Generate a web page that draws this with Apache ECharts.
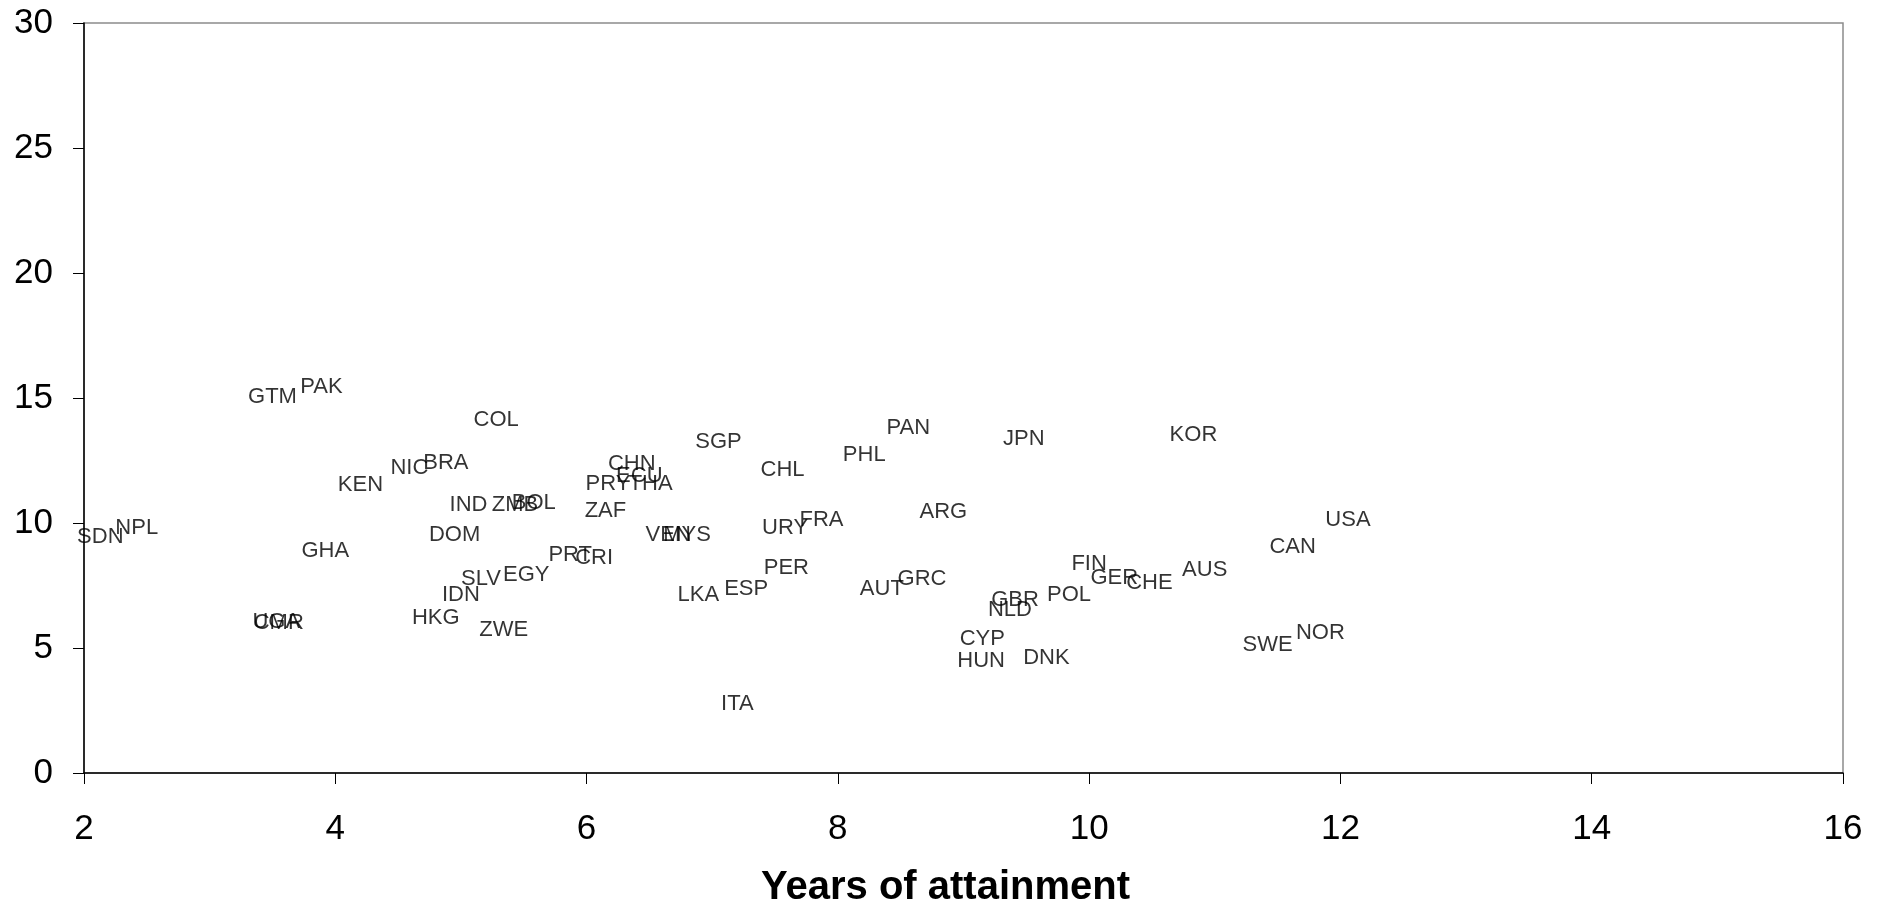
<!DOCTYPE html>
<html>
<head>
<meta charset="utf-8">
<script src="https://cdn.jsdelivr.net/npm/echarts@6/dist/echarts.min.js"></script>
<style>
html,body{margin:0;padding:0;background:#fff;}
#chart{width:1883px;height:906px;}
</style>
</head>
<body>
<div id="chart"></div>
<script>
const countries = ["GTM","PAK","COL","NIC","BRA","KEN","IND","ZMB","BOL","SDN","NPL","GHA","DOM","SLV","EGY","IDN","HKG","ZWE","UGA","CMR","CHN","ECU","PRY","THA","SGP","ZAF","VEN","MYS","PRT","CRI","LKA","ESP","CHL","PAN","PHL","URY","FRA","PER","AUT","GRC","ITA","ARG","JPN","KOR","FIN","GER","CHE","AUS","POL","GBR","NLD","CYP","HUN","DNK","USA","CAN","SWE","NOR"];
const years = [3.50,3.89,5.28,4.59,4.88,4.20,5.06,5.43,5.58,2.13,2.42,3.92,4.95,5.16,5.52,5.00,4.80,5.34,3.53,3.55,6.36,6.42,6.17,6.51,7.05,6.15,6.65,6.80,5.87,6.06,6.89,7.27,7.56,8.56,8.21,7.58,7.87,7.59,8.35,8.67,7.20,8.84,9.48,10.83,10.00,10.20,10.48,10.92,9.84,9.41,9.37,9.15,9.14,9.66,12.06,11.62,11.42,11.84];
const values = [15.05,15.45,14.12,12.19,12.39,11.52,10.72,10.72,10.79,9.45,9.79,8.89,9.52,7.76,7.91,7.12,6.20,5.71,6.04,6.02,12.36,11.89,11.56,11.56,13.23,10.47,9.52,9.52,8.72,8.59,7.13,7.37,12.12,13.80,12.72,9.80,10.13,8.20,7.37,7.75,2.77,10.44,13.36,13.53,8.36,7.79,7.61,8.11,7.13,6.91,6.51,5.37,4.47,4.60,10.12,9.04,5.13,5.59];
const xTicks = [2,4,6,8,10,12,14,16];
const yTicks = [0,5,10,15,20,25,30];

const data = countries.map((c,i)=>({name:c, value:[years[i], values[i]]}));
const font = "Arial, 'Liberation Sans', sans-serif";

const chart = echarts.init(document.getElementById('chart'), null, {renderer:'canvas'});
chart.setOption({
  animation:false,
  backgroundColor:'#ffffff',
  grid:{left:84,right:40,top:23,bottom:133,show:true,borderColor:'#8c8c8c',borderWidth:1.5,backgroundColor:'transparent',outerBoundsMode:'none',containLabel:false},
  xAxis:{
    type:'value', min:xTicks[0], max:xTicks[xTicks.length-1], interval:2,
    name:'Years of attainment', nameLocation:'middle', nameGap:95,
    nameTextStyle:{fontFamily:font,fontSize:40,fontWeight:'bold',color:'#000',padding:[0,36,0,0]},
    axisLine:{show:true,onZero:false,lineStyle:{color:'#000',width:1.5}},
    axisTick:{show:true,length:11,lineStyle:{color:'#000',width:1}},
    axisLabel:{margin:39,fontFamily:font,fontSize:35,color:'#000'},
    splitLine:{show:false}
  },
  yAxis:{
    type:'value', min:yTicks[0], max:yTicks[yTicks.length-1], interval:5,
    axisLine:{show:true,onZero:false,lineStyle:{color:'#000',width:1.5}},
    axisTick:{show:true,length:11,lineStyle:{color:'#000',width:1}},
    axisLabel:{margin:31,fontFamily:font,fontSize:35,color:'#000'},
    splitLine:{show:false}
  },
  series:[{
    type:'scatter',
    data:data,
    symbolSize:1,
    itemStyle:{color:'rgba(0,0,0,0)'},
    label:{show:true,position:'inside',offset:[0,2],formatter:p=>p.name,fontFamily:font,fontSize:22,color:'#000',textBorderWidth:0,textBorderColor:'transparent'},
    labelLayout:{hideOverlap:false},
    clip:false,
    silent:true
  }]
});
</script>
</body>
</html>
